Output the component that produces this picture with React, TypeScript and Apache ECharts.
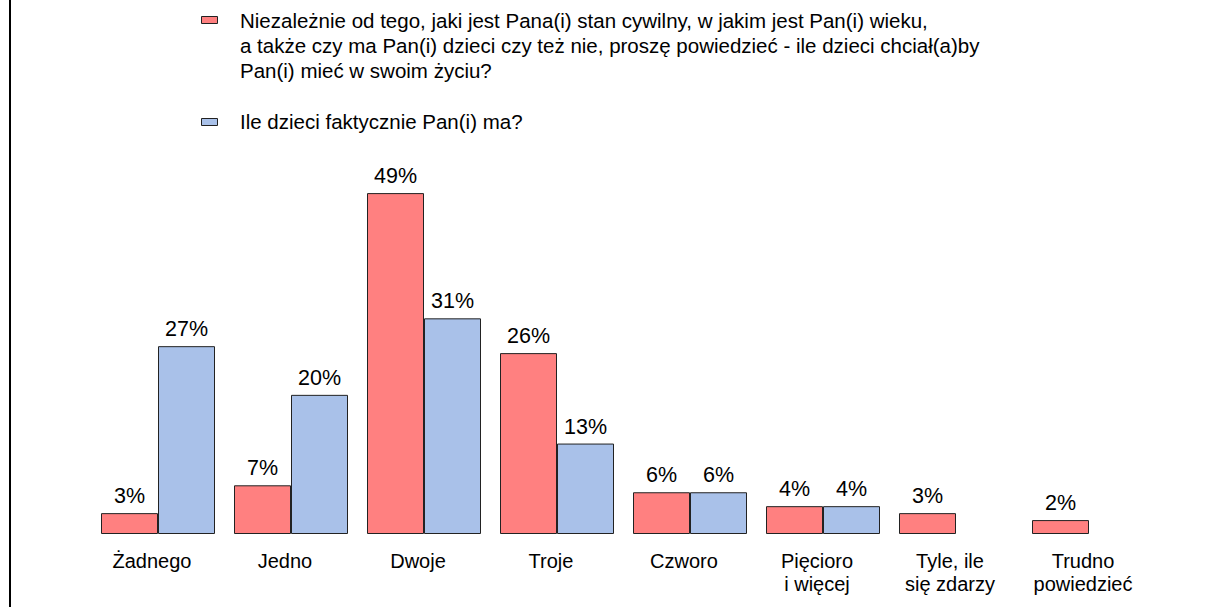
import React, { useEffect, useRef } from "react";
import * as echarts from "echarts";

const categories = [
  "Żadnego",
  "Jedno",
  "Dwoje",
  "Troje",
  "Czworo",
  "Pięcioro\ni więcej",
  "Tyle, ile\nsię zdarzy",
  "Trudno\npowiedzieć",
];
const desiredName =
  "Niezależnie od tego, jaki jest Pana(i) stan cywilny, w jakim jest Pan(i) wieku,\na także czy ma Pan(i) dzieci czy też nie, proszę powiedzieć - ile dzieci chciał(a)by\nPan(i) mieć w swoim życiu?";
const actualName = "Ile dzieci faktycznie Pan(i) ma?";
const desiredValues = [3, 7, 49, 26, 6, 4, 3, 2];
const actualValues: (number | null)[] = [27, 20, 31, 13, 6, 4, null, null];

const RED = "#FF8080";
const BLUE = "#A9C1E9";
const FONT = "'Liberation Sans', Arial, sans-serif";

export default function App() {
  const ref = useRef<HTMLDivElement>(null);
  useEffect(() => {
    if (!ref.current) return;
    const chart = echarts.init(ref.current, null, { renderer: "svg" });
    const labelOpt = {
      show: true,
      position: "top",
      distance: 6,
      fontSize: 21.5,
      fontFamily: FONT,
      color: "#000",
      formatter: (p: any) => (p.value == null ? "" : p.value + "%"),
    };
    chart.setOption({
      animation: false,
      backgroundColor: "#fff",
      textStyle: { fontFamily: FONT },
      grid: { left: 91.5, right: 51.5, top: 47, bottom: 73 },
      xAxis: {
        type: "category",
        data: categories,
        axisLine: { show: false },
        axisTick: { show: false },
        axisLabel: {
          fontSize: 20,
          fontFamily: FONT,
          color: "#000",
          margin: 15,
          lineHeight: 23,
          interval: 0,
          padding: [0, 12, 0, 0],
        },
      },
      yAxis: {
        type: "value",
        min: 0,
        max: 70,
        show: false,
        splitLine: { show: false },
      },
      series: [
        {
          name: desiredName,
          type: "bar",
          data: desiredValues,
          barWidth: 57,
          barGap: "0%",
          itemStyle: { color: RED, borderColor: "#222", borderWidth: 1 },
          label: labelOpt,
        },
        {
          name: actualName,
          type: "bar",
          data: actualValues,
          barWidth: 57,
          barGap: "0%",
          itemStyle: { color: BLUE, borderColor: "#222", borderWidth: 1 },
          label: labelOpt,
        },
      ],
      graphic: [
        {
          type: "line",
          shape: { x1: 10, y1: 0, x2: 10, y2: 607 },
          style: { stroke: "#000", lineWidth: 2 },
        },
        {
          type: "rect",
          shape: { x: 201.5, y: 16.5, width: 16, height: 7 },
          style: { fill: RED, stroke: "#222", lineWidth: 1 },
        },
        {
          type: "text",
          x: 240,
          y: 8,
          style: {
            text: desiredName,
            fontSize: 20.5,
            fontFamily: FONT,
            fill: "#000",
            lineHeight: 25,
          },
        },
        {
          type: "rect",
          shape: { x: 201.5, y: 118.5, width: 16, height: 7 },
          style: { fill: BLUE, stroke: "#222", lineWidth: 1 },
        },
        {
          type: "text",
          x: 240,
          y: 109,
          style: {
            text: actualName,
            fontSize: 20.5,
            fontFamily: FONT,
            fill: "#000",
            lineHeight: 25,
          },
        },
      ],
    });
    return () => chart.dispose();
  }, []);
  return (
    <div
      ref={ref}
      style={{ position: "fixed", left: 0, top: 0, width: 1207, height: 607 }}
    />
  );
}
